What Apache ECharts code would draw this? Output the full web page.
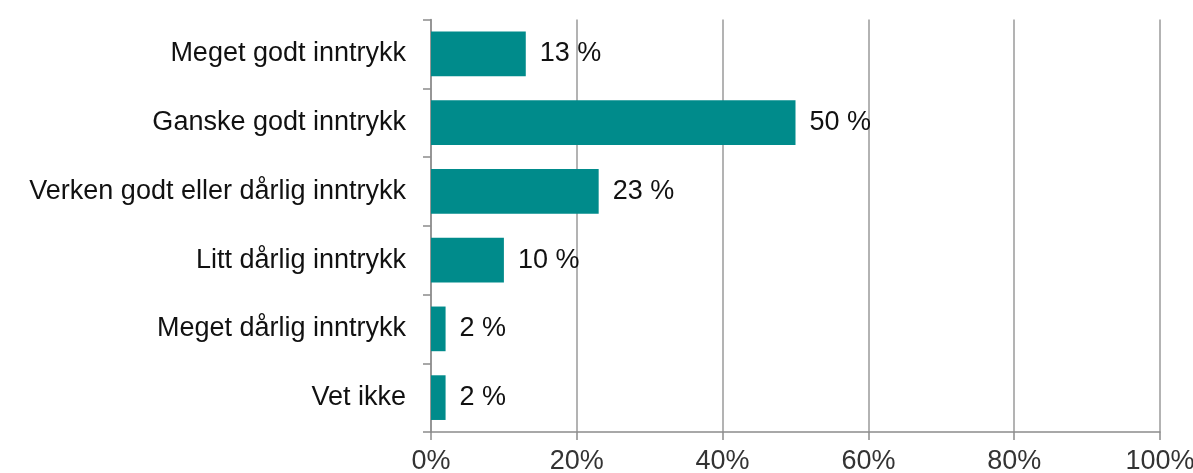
<!DOCTYPE html>
<html>
<head>
<meta charset="utf-8">
<script src="https://cdn.jsdelivr.net/npm/echarts@6/dist/echarts.min.js"></script>
<style>
  html, body { margin: 0; padding: 0; background: #fff; }
  #chart { width: 1193px; height: 473px; }
</style>
</head>
<body>
<div id="chart"></div>
<script>
// Survey answers, top to bottom
const categories = [
  'Meget godt inntrykk',
  'Ganske godt inntrykk',
  'Verken godt eller dårlig inntrykk',
  'Litt dårlig inntrykk',
  'Meget dårlig inntrykk',
  'Vet ikke'
];
const values = [13, 50, 23, 10, 2, 2];
const xTicks = [0, 20, 40, 60, 80, 100];

const chart = echarts.init(document.getElementById('chart'));
const font = '"Liberation Sans", Arial, sans-serif';

chart.setOption({
  animation: false,
  grid: {
    left: 431, right: 33, top: 19.5, bottom: 41,
    containLabel: false,
    outerBoundsMode: 'none'
  },
  xAxis: {
    type: 'value',
    min: xTicks[0],
    max: xTicks[xTicks.length - 1],
    interval: xTicks[1] - xTicks[0],
    axisLine: { show: true, lineStyle: { color: '#8c8c8c', width: 1.5 } },
    axisTick: { show: true, length: 8, lineStyle: { color: '#8c8c8c', width: 1.5 } },
    splitLine: { show: true, lineStyle: { color: '#9a9a9a', width: 1.5 } },
    axisLabel: {
      formatter: '{value}%',
      fontFamily: font,
      fontSize: 27,
      color: '#333',
      margin: 16
    }
  },
  yAxis: {
    type: 'category',
    inverse: true,
    data: categories,
    axisLine: { show: true, lineStyle: { color: '#8c8c8c', width: 1.5 } },
    axisTick: { show: true, length: 8, alignWithLabel: false, lineStyle: { color: '#8c8c8c', width: 1.5 } },
    axisLabel: {
      fontFamily: font,
      fontSize: 27,
      color: '#111',
      margin: 25
    }
  },
  series: [{
    type: 'bar',
    data: values,
    barWidth: '65%',
    z: 1,
    itemStyle: { color: '#008b8b' },
    label: {
      show: true,
      position: 'right',
      distance: 14,
      formatter: '{c} %',
      fontFamily: font,
      fontSize: 27,
      color: '#111'
    }
  }]
});
</script>
</body>
</html>
